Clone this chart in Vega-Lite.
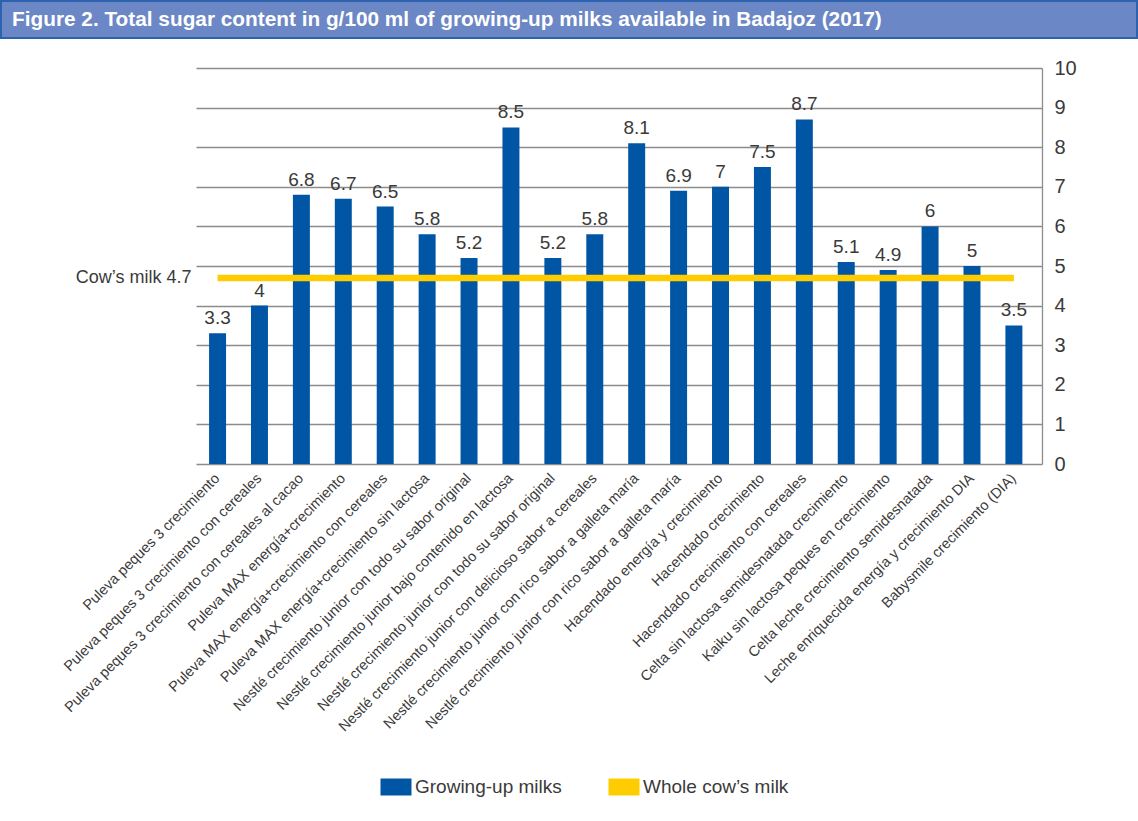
{
  "$schema": "https://vega.github.io/schema/vega-lite/v6.json",
  "background": "white",
  "padding": 0,
  "spacing": 19,
  "config": {
    "font": "Liberation Sans, sans-serif",
    "view": {"stroke": null}
  },
  "datasets": {
    "titles": [
      {"title": "Figure 2. Total sugar content in g/100 ml of growing-up milks available in Badajoz (2017)"}
    ],
    "milks": [
      {"item": "01 Puleva  peques 3 crecimiento", "sugar": 3.3, "cow": 4.7},
      {"item": "02 Puleva  peques 3 crecimiento con cereales", "sugar": 4, "cow": 4.7},
      {"item": "03 Puleva peques 3 crecimiento con cereales al cacao", "sugar": 6.8, "cow": 4.7},
      {"item": "04 Puleva MAX energía+crecimiento", "sugar": 6.7, "cow": 4.7},
      {"item": "05 Puleva MAX energía+crecimiento con cereales", "sugar": 6.5, "cow": 4.7},
      {"item": "06 Puleva MAX energía+crecimiento sin lactosa", "sugar": 5.8, "cow": 4.7},
      {"item": "07 Nestlé crecimiento junior con todo su sabor original", "sugar": 5.2, "cow": 4.7},
      {"item": "08 Nestlé crecimiento junior bajo contenido en lactosa", "sugar": 8.5, "cow": 4.7},
      {"item": "09 Nestlé crecimiento junior con todo su sabor original", "sugar": 5.2, "cow": 4.7},
      {"item": "10 Nestlé crecimiento junior con delicioso sabor a cereales", "sugar": 5.8, "cow": 4.7},
      {"item": "11 Nestlé crecimiento junior con rico sabor a galleta maría", "sugar": 8.1, "cow": 4.7},
      {"item": "12 Nestlé crecimiento junior con rico sabor a galleta maría", "sugar": 6.9, "cow": 4.7},
      {"item": "13 Hacendado energía y crecimiento", "sugar": 7, "cow": 4.7},
      {"item": "14 Hacendado crecimiento", "sugar": 7.5, "cow": 4.7},
      {"item": "15 Hacendado crecimiento con cereales", "sugar": 8.7, "cow": 4.7},
      {"item": "16 Celta sin lactosa semidesnatada crecimiento", "sugar": 5.1, "cow": 4.7},
      {"item": "17 Kaiku sin lactosa peques en crecimiento", "sugar": 4.9, "cow": 4.7},
      {"item": "18 Celta leche crecimiento semidesnatada", "sugar": 6, "cow": 4.7},
      {"item": "19 Leche enriquecida energía y crecimiento DIA", "sugar": 5, "cow": 4.7},
      {"item": "20 Babysmile crecimiento (DIA)", "sugar": 3.5, "cow": 4.7}
    ]
  },
  "vconcat": [
    {
      "width": 1136,
      "height": 37,
      "view": {"fill": "#6C87C5", "stroke": "#2D62AE", "strokeWidth": 2},
      "data": {"name": "titles"},
      "mark": {"type": "text", "align": "left", "baseline": "middle", "dx": 11, "fontSize": 20.8, "fontWeight": "bold", "color": "white"},
      "encoding": {
        "text": {"field": "title"},
        "x": {"datum": 0, "type": "quantitative", "scale": {"domain": [0, 1]}, "axis": null}
      }
    },
    {
      "spacing": 0,
      "hconcat": [
        {
          "width": 1,
          "height": 396,
          "data": {"name": "titles"},
          "mark": {"type": "rect", "opacity": 0},
          "encoding": {}
        },
        {
          "width": 846,
          "height": 396,
          "data": {"name": "milks"},
          "encoding": {
            "x": {
              "field": "item",
              "type": "nominal",
              "sort": null,
              "scale": {"paddingInner": 0.595, "paddingOuter": 0.39, "align": 0.4},
              "axis": {
                "title": null,
                "labelExpr": "substring(datum.label, 3)",
                "labelAngle": -45,
                "labelAlign": "right",
                "labelBaseline": "middle",
                "labelFontSize": 14.5,
                "labelColor": "#3a3a3a",
                "labelLimit": 500,
                "labelPadding": 12,
                "ticks": false,
                "domain": false
              }
            }
          },
          "layer": [
            {
              "mark": {"type": "bar"},
              "encoding": {
                "y": {
                  "field": "sugar",
                  "type": "quantitative",
                  "scale": {"domain": [0, 10], "nice": false},
                  "axis": {
                    "orient": "right",
                    "title": null,
                    "values": [0, 1, 2, 3, 4, 5, 6, 7, 8, 9, 10],
                    "grid": true,
                    "gridColor": "#8C8C8C",
                    "gridWidth": 1.3,
                    "domainColor": "#8C8C8C",
                    "domainWidth": 1.3,
                    "ticks": false,
                    "labelPadding": 12,
                    "labelFontSize": 20,
                    "labelColor": "#3a3a3a",
                    "labelAlign": "left"
                  }
                },
                "color": {
                  "datum": "Growing-up milks",
                  "scale": {"domain": ["Growing-up milks", "Whole cow’s milk"], "range": ["#0055A5", "#FFCC00"]},
                  "legend": {
                    "title": null,
                    "orient": "none",
                    "direction": "horizontal",
                    "legendX": 385,
                    "legendY": 776,
                    "padding": 0,
                    "symbolType": "M-1.55,-0.85H1.55V0.85H-1.55Z",
                    "symbolSize": 400,
                    "symbolStrokeWidth": 0,
                    "labelFontSize": 19,
                    "labelColor": "#3a3a3a",
                    "labelOffset": 9,
                    "columnPadding": 46,
                    "encode": {
                      "symbols": {
                        "update": {
                          "fill": {"scale": "color", "field": "value"},
                          "fillOpacity": {"value": 1},
                          "strokeWidth": {"value": 0}
                        }
                      }
                    }
                  }
                }
              }
            },
            {
              "mark": {"type": "text", "baseline": "bottom", "dy": -5, "fontSize": 19, "color": "#3a3a3a"},
              "encoding": {
                "y": {"field": "sugar", "type": "quantitative", "axis": null},
                "text": {"field": "sugar", "type": "quantitative"}
              }
            },
            {
              "mark": {"type": "line", "strokeWidth": 6.5, "strokeCap": "butt"},
              "encoding": {
                "y": {
                  "field": "cow",
                  "type": "quantitative",
                  "axis": {
                    "orient": "left",
                    "title": null,
                    "values": [4.7],
                    "format": ".1f",
                    "labelExpr": "'Cow’s milk ' + datum.label",
                    "grid": false,
                    "domain": false,
                    "ticks": false,
                    "labelPadding": 5,
                    "labelFontSize": 18,
                    "labelColor": "#3a3a3a",
                    "minExtent": 194
                  }
                },
                "color": {"datum": "Whole cow’s milk"}
              }
            }
          ],
          "resolve": {"axis": {"y": "independent"}}
        }
      ]
    }
  ]
}
